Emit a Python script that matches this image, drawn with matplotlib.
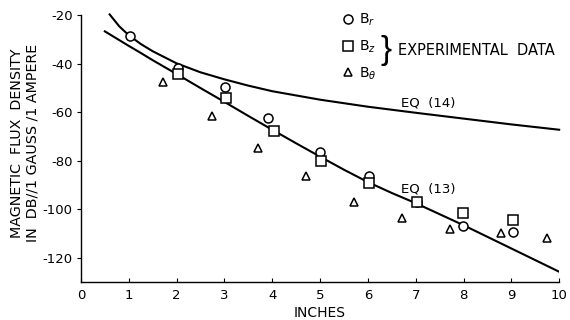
import matplotlib
matplotlib.use("Agg")
import matplotlib.pyplot as plt

plt.rcParams["axes.unicode_minus"] = False

br_x = [1.03, 2.03, 3.01, 3.91, 5.0, 6.03, 7.03, 7.99, 9.04]
br_y = [-28.5, -41.7, -49.5, -62.4, -76.4, -86.3, -97.1, -107.0, -109.5]

bz_x = [2.03, 3.03, 4.04, 5.02, 6.03, 7.03, 7.99, 9.04]
bz_y = [-44.2, -54.1, -67.7, -80.1, -89.2, -97.1, -101.6, -104.5]

bt_x = [1.72, 2.74, 3.70, 4.71, 5.71, 6.72, 7.72, 8.79, 9.75]
bt_y = [-47.5, -61.5, -74.8, -86.3, -97.1, -103.7, -108.2, -109.9, -111.9]

# theoretical curves
eq14_x = [0.6, 0.8, 1.0, 1.25, 1.5, 1.75, 2.0, 2.5, 3.0, 3.5, 4.0, 5.0, 6.0, 7.0, 8.0, 9.0, 10.0]
eq14_y = [-19.6, -24.5, -28.2, -31.8, -34.8, -37.3, -39.8, -43.5, -46.4, -49.0, -51.3,
          -54.8, -57.7, -60.2, -62.6, -65.0, -67.2]

eq13_x = [0.5, 0.75, 1.0, 1.25, 1.5, 2.0, 2.5, 3.0, 3.5, 4.0, 4.5, 5.0, 5.5, 6.0, 6.5, 7.0, 8.0, 9.0, 10.0]
eq13_y = [-26.6, -29.6, -32.6, -35.5, -38.5, -44.2, -50.0, -55.7, -61.5, -67.2, -72.8,
          -78.3, -83.7, -88.8, -93.3, -97.5, -106.6, -116.2, -125.8]

fig = plt.figure(figsize=(5.7, 3.2), dpi=100)
ax = fig.add_axes([0.142, 0.119, 0.839, 0.833])

ax.plot(eq14_x, eq14_y, color="black", lw=1.5, clip_on=False)
ax.plot(eq13_x, eq13_y, color="black", lw=1.5)

mk = dict(linestyle="none", markerfacecolor="white", markeredgecolor="black", markeredgewidth=1.1)
h_r, = ax.plot(br_x, br_y, marker="o", markersize=6.5, label="B$_r$", **mk)
h_z, = ax.plot(bz_x, bz_y, marker="s", markersize=6.5, label="B$_z$", **mk)
h_t, = ax.plot(bt_x, bt_y, marker="^", markersize=5.5, label=r"B$_\theta$", **mk)

leg = ax.legend(handles=[h_r, h_z, h_t], loc="upper left", bbox_to_anchor=(0.535, 1.035),
                frameon=False, handlelength=0.8, handletextpad=0.4, labelspacing=0.75,
                fontsize=10, borderaxespad=0)

ax.text(0.627, 0.87, "}", transform=ax.transAxes, fontsize=24,
        family="Liberation Sans", va="center", ha="left")
ax.text(0.663, 0.87, "EXPERIMENTAL  DATA", transform=ax.transAxes, fontsize=10.5,
        va="center", ha="left")

ax.text(6.7, -56, "EQ  (14)", fontsize=9.5, va="center")
ax.text(6.7, -91.5, "EQ  (13)", fontsize=9.5, va="center")

ax.set_xlim(0, 10)
ax.set_ylim(-130, -20)
ax.set_xticks(range(0, 11))
ax.set_yticks(range(-120, -19, 20))
ax.tick_params(axis="x", direction="in", length=3, labelsize=9.5, pad=5)
ax.tick_params(axis="y", direction="out", length=3, labelsize=9.5, pad=3)

for s in ["top", "right"]:
    ax.spines[s].set_visible(False)
for s in ["left", "bottom"]:
    ax.spines[s].set_linewidth(1.0)

ax.set_xlabel("INCHES", fontsize=10, labelpad=3)
fig.text(0.044, 0.553, "MAGNETIC  FLUX  DENSITY\nIN  DB//1 GAUSS /1 AMPERE", fontsize=10.3,
         rotation=90, ha="center", va="center", linespacing=1.15)

fig.savefig("out.png", dpi=100)
